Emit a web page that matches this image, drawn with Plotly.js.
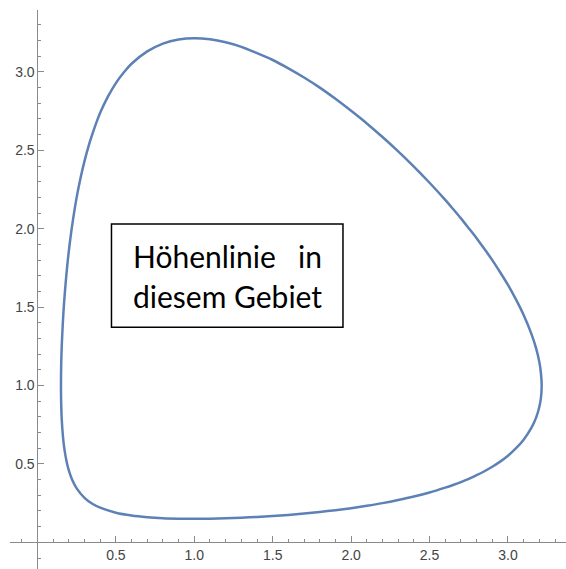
<!DOCTYPE html>
<html>
<head>
<meta charset="utf-8">
<script src="https://cdn.plot.ly/plotly-3.0.1.min.js"></script>
<style>
  html, body { margin: 0; padding: 0; background: #fff; }
  #plot { width: 566px; height: 569px; }
</style>
</head>
<body>
<div id="plot"></div>
<script>
// Closed level curve, traced counter-clockwise from its leftmost point
const contourX = [
  0.15, 0.1505, 0.152, 0.155, 0.16, 0.165, 0.17, 0.18, 0.19, 0.2, 0.22, 0.25, 0.3, 0.35, 0.4, 0.5, 0.6, 0.7, 0.8, 0.9,
  1.0, 1.1, 1.2, 1.3, 1.4, 1.5, 1.6, 1.7, 1.8, 1.9, 2.0, 2.1, 2.2, 2.3, 2.4, 2.5, 2.6, 2.65, 2.7, 2.75, 2.8, 2.85, 2.9, 2.95,
  3.0, 3.05, 3.1, 3.15, 3.18, 3.2, 3.21,
  3.215,
  3.21, 3.2, 3.18, 3.15, 3.1, 3.05, 3.0, 2.95, 2.9, 2.85, 2.8, 2.75, 2.7, 2.65, 2.6, 2.5, 2.4, 2.3, 2.2, 2.1, 2.0,
  1.9, 1.8, 1.7, 1.6, 1.5, 1.4, 1.3, 1.2, 1.1, 1.0, 0.9, 0.8, 0.7, 0.6, 0.55, 0.5, 0.45, 0.4, 0.375, 0.35, 0.325,
  0.3, 0.275, 0.25, 0.235, 0.22, 0.21, 0.2, 0.19, 0.18, 0.17, 0.165, 0.16, 0.155, 0.152, 0.1505, 0.15];
const contourY = [
  1.0, 0.928, 0.859, 0.782, 0.707, 0.651, 0.609, 0.545, 0.497, 0.459, 0.402, 0.344, 0.284, 0.246, 0.221, 0.189, 0.171, 0.1605, 0.154, 0.151,
  0.15, 0.1509, 0.1532, 0.1568, 0.162, 0.1679, 0.175, 0.1838, 0.194, 0.2052, 0.218, 0.2332, 0.25, 0.2698, 0.292, 0.3181, 0.349, 0.3657, 0.3845, 0.405, 0.428, 0.4535, 0.482, 0.5148,
  0.5527, 0.599, 0.655, 0.731, 0.797, 0.865, 0.92,
  1.0,
  1.08, 1.15, 1.235, 1.328, 1.45, 1.551, 1.642, 1.7227, 1.8, 1.8706, 1.94, 2.0035, 2.066, 2.1256, 2.184, 2.2933, 2.3965, 2.4936, 2.585, 2.6717, 2.752,
  2.8287, 2.9, 2.9643, 3.023, 3.0761, 3.12, 3.16, 3.189, 3.2079, 3.215, 3.207, 3.181, 3.131, 3.052, 2.9966, 2.929, 2.8436, 2.739, 2.6752, 2.603, 2.5239,
  2.431, 2.3255, 2.2, 2.111, 2.012, 1.938, 1.857, 1.764, 1.657, 1.531, 1.455, 1.362, 1.255, 1.159, 1.0752, 1.0];

// Labelled tick positions on both axes
const xTickVals = [0.5, 1.0, 1.5, 2.0, 2.5, 3.0];
const yTickVals = [0.5, 1.0, 1.5, 2.0, 2.5, 3.0];

// Text of the framed note
const noteLine1Left = 'Höhenlinie';
const noteLine1Right = 'in';
const noteLine2 = 'diesem Gebiet';

const xRange = [-0.175, 3.37];
const yRange = [-0.17, 3.395];

const axisColor = '#8a8a8a';
const tickFont = { family: 'Liberation Sans, Arial, sans-serif', size: 14, color: '#444' };

function axisCommon(tickvals, range) {
  return {
    range: range,
    tickmode: 'array',
    tickvals: tickvals,
    tickformat: '.1f',
    ticks: 'inside',
    ticklen: 6,
    tickwidth: 1,
    tickcolor: axisColor,
    showline: true,
    linecolor: axisColor,
    linewidth: 1,
    showgrid: false,
    zeroline: false,
    tickfont: tickFont,
    automargin: false,
    anchor: 'free',
    fixedrange: true,
    minor: {
      tickmode: 'linear',
      tick0: 0,
      dtick: 0.1,
      ticks: 'inside',
      ticklen: 3,
      tickwidth: 1,
      tickcolor: axisColor,
      showgrid: false
    }
  };
}

const xaxis = axisCommon(xTickVals, xRange);
xaxis.position = (0 - yRange[0]) / (yRange[1] - yRange[0]);
const yaxis = axisCommon(yTickVals, yRange);
yaxis.position = (0 - xRange[0]) / (xRange[1] - xRange[0]);

const noteFont = { family: 'Lato, Carlito, sans-serif', size: 30, color: '#000' };

const layout = {
  width: 566,
  height: 569,
  margin: { l: 10, r: 0, t: 10, b: 0 },
  paper_bgcolor: '#fff',
  plot_bgcolor: '#fff',
  showlegend: false,
  xaxis: xaxis,
  yaxis: yaxis,
  shapes: [{
    type: 'rect', xref: 'x', yref: 'y',
    x0: 0.472, x1: 1.948, y0: 1.371, y1: 2.030,
    line: { color: '#000', width: 1.5 },
    fillcolor: '#fff', layer: 'above'
  }],
  annotations: [
    { xref: 'x', yref: 'y', x: 0.595, y: 1.826, xanchor: 'left', yanchor: 'middle',
      text: noteLine1Left, showarrow: false, font: noteFont },
    { xref: 'x', yref: 'y', x: 1.83, y: 1.826, xanchor: 'right', yanchor: 'middle',
      text: noteLine1Right, showarrow: false, font: noteFont },
    { xref: 'x', yref: 'y', x: 0.595, y: 1.571, xanchor: 'left', yanchor: 'middle',
      text: noteLine2, showarrow: false, font: noteFont }
  ]
};

const trace = {
  type: 'scatter',
  mode: 'lines',
  x: contourX,
  y: contourY,
  line: { color: '#5E81B5', width: 2.5, shape: 'spline', smoothing: 0.8 },
  hoverinfo: 'skip'
};

Plotly.newPlot('plot', [trace], layout, { staticPlot: true, displayModeBar: false });
</script>
</body>
</html>
